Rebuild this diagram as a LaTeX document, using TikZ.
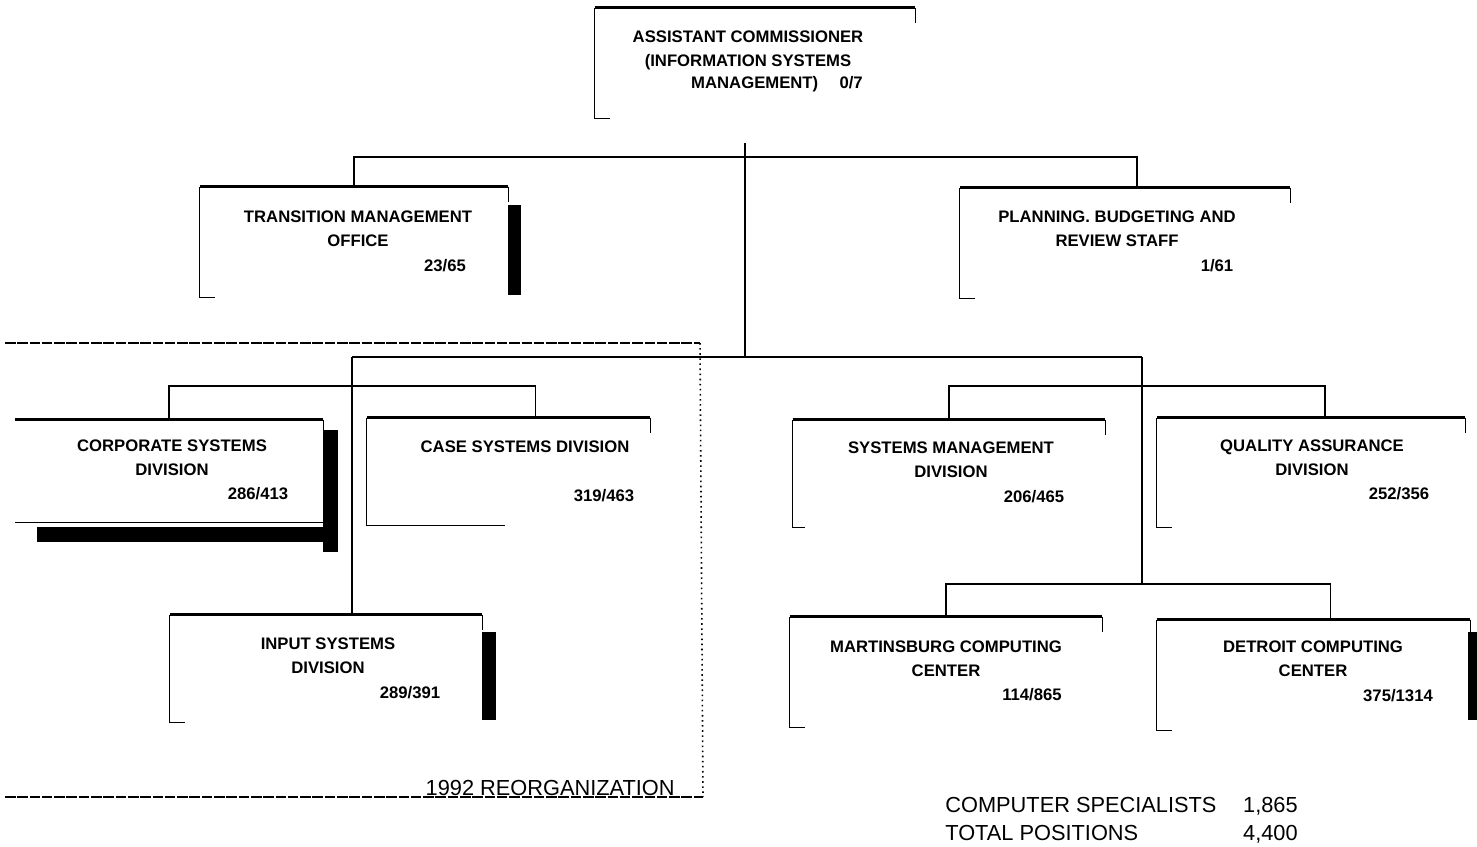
\documentclass[tikz,border=0pt]{standalone}
\usepackage{fontspec}
\setmainfont{Liberation Sans}
\usetikzlibrary{calc,fit}

\begin{document}
\begin{tikzpicture}[x=0.02cm, y=-0.02cm,
  every node/.style={font=\bfseries\fontsize{9.5}{13.6}\selectfont, inner sep=0pt, align=center},
  boxfit/.style={inner sep=0pt},
  rim/.style={line width=2pt},
  side/.style={line width=0.8pt},
  link/.style={line width=1.1pt},
  shade/.style={fill=black},
  reorg/.style={dash pattern=on 6pt off 1pt, line width=1.1pt},
  sumtext/.style={font=\fontsize{12.4}{14}\selectfont}]
\useasboundingbox (0,0) rectangle (1477,846);
% Office boxes (open frames)
\foreach \n/\xa/\ya/\xb/\yb/\s in {ac/595/8/915/118/15, tmo/200/187/508/297/15, pbr/960/188/1290/298/15,
    cas/367/418/650/525/138, inp/170/615/482/722/15, smd/793/420/1105/527/12,
    qad/1157/418/1465/527/15, mcc/790/617/1102/727/15, dcc/1157/620/1470/730/15} {
  \node[boxfit, fit={(\xa,\ya) (\xb,\yb)}] (\n) {};
  \draw[side] ($(\n.south west)+(\s,0)$) -- (\n.south west) -- (\n.north west);
  \draw[side] (\n.north east) -- ++(0,15);
  \draw[rim] (\n.north west) -- (\n.north east);
}
% Corporate systems box (closed on the right and below)
\node[boxfit, fit={(15,420) (323,522)}] (corp) {};
\draw[rim] (corp.north west) -- (corp.north east);
\draw[side] (corp.north east) -- (corp.south east) -- (corp.south west);
% Shadows
\fill[shade] (tmo.north east) ++(0,18) rectangle ++(13,90);
\fill[shade] (inp.north east) ++(0,17) rectangle ++(14,88);
\fill[shade] (dcc.north east) ++(-2,12) rectangle ++(9,88);
\fill[shade] (corp.north east) ++(0,10) rectangle ++(15,122);
\fill[shade] (corp.south west) ++(22,5) rectangle ($(corp.south east)+(15,20)$);
% Connectors
\coordinate (hub1) at (745,157);
\coordinate (hub2) at (745,357);
\coordinate (lsplit) at (352,357);
\coordinate (rsplit) at (1142,357);
\coordinate (lbar) at (352,386);
\coordinate (rbar) at (1142,386);
\coordinate (cbar) at (1142,584);
\draw[link] (ac.south) ++(-10,25) -- (hub2);
\draw[link] (tmo.north) |- (hub1) -| ($(pbr.north)+(12,0)$);
\draw[link] (lsplit) -- (rsplit);
\draw[link] (lsplit) -- (lsplit |- inp.north);
\draw[link] (rsplit) -- (cbar);
\draw[link] (corp.north) |- (lbar) -| ($(cas.north)+(27,0)$);
\draw[link] (smd.north) |- (rbar) -| ($(qad.north)+(14,0)$);
\draw[link] (mcc.north) |- (cbar) -| ($(dcc.north)+(17,0)$);
% 1992 reorganization frame
\coordinate (rg-tl) at (5,343);
\coordinate (rg-tr) at (700,343);
\coordinate (rg-br) at (703,797);
\coordinate (rg-bl) at (5,797);
\draw[reorg] (rg-tl) -- (rg-tr);
\draw[dotted, line width=0.9pt] (rg-tr) -- (rg-br);
\draw[reorg] (rg-bl) -- (rg-br);
\node[sumtext, anchor=base east] (reorg) at (675,795) {1992 REORGANIZATION};
% Box texts
\node (ac-t) at (748,50) {ASSISTANT COMMISSIONER\\(INFORMATION SYSTEMS};
\node (ac-n) at (777,84) {MANAGEMENT)\quad\ 0/7};
\foreach \n/\x/\y/\t in {tmo/358/229/{TRANSITION MANAGEMENT\\OFFICE},
    pbr/1117/229/{PLANNING. BUDGETING AND\\REVIEW STAFF},
    corp/172/458/{CORPORATE SYSTEMS\\DIVISION}, cas/525/447/{CASE SYSTEMS DIVISION},
    inp/328/656/{INPUT SYSTEMS\\DIVISION}, smd/951/460/{SYSTEMS MANAGEMENT\\DIVISION},
    qad/1312/458/{QUALITY ASSURANCE\\DIVISION}, mcc/946/659/{MARTINSBURG COMPUTING\\CENTER},
    dcc/1313/659/{DETROIT COMPUTING\\CENTER}}
  \node (\n-t) at (\x,\y) {\t};
\foreach \n/\x/\y/\t in {tmo/445/266/{23/65}, pbr/1217/266/{1/61}, corp/258/494/{286/413},
    cas/604/496/{319/463}, inp/410/693/{289/391}, smd/1034/497/{206/465},
    qad/1399/494/{252/356}, mcc/1032/695/{114/865}, dcc/1398/696/{375/1314}}
  \node (\n-n) at (\x,\y) {\t};
% Totals
\node[sumtext, anchor=base west] (cs) at (945,812) {COMPUTER SPECIALISTS};
\node[sumtext, anchor=base east] (cs-n) at (1298,812) {1,865};
\node[sumtext, anchor=base west] (tp) at (945,840) {TOTAL POSITIONS};
\node[sumtext, anchor=base east] (tp-n) at (1298,840) {4,400};
\end{tikzpicture}
\end{document}
